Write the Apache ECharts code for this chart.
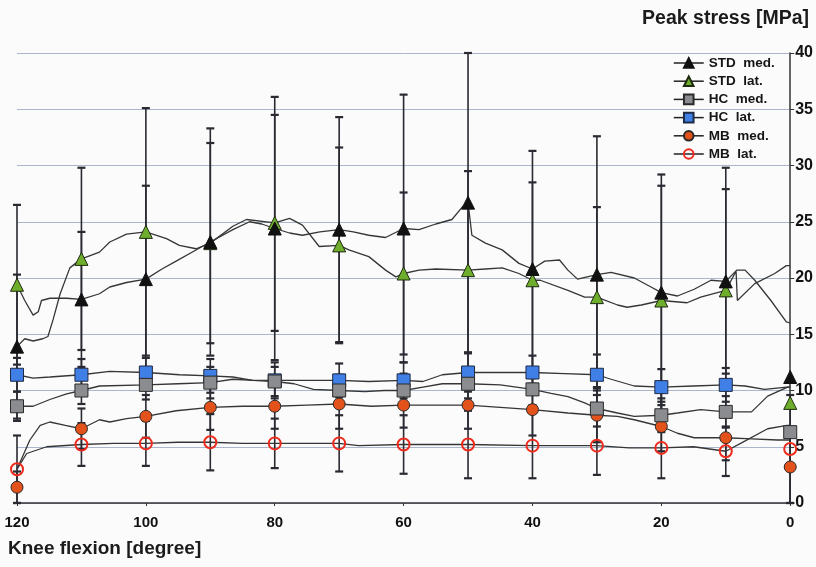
<!DOCTYPE html>
<html><head><meta charset="utf-8">
<script src="https://cdn.jsdelivr.net/npm/echarts@6/dist/echarts.min.js"></script>
<style>html,body{margin:0;padding:0;background:#fbfbfb}#c{width:816px;height:567px}</style>
</head><body><div id="c"></div>
<script>
// ---------- data ----------
const degrees = [120,110,100,90,80,70,60,50,40,30,20,10,0];
const xTickLabels = [120,100,80,60,40,20,0];
const yTickLabels = [0,5,10,15,20,25,30,35,40];
const seriesNames = ['STD  med.','STD  lat.','HC  med.','HC  lat.','MB  med.','MB  lat.'];

const stdMed = [13.9,18.1,19.9,23.2,24.4,24.3,24.4,26.7,20.8,20.3,18.7,19.7,11.2];
const stdLat = [19.4,21.7,24.1,23.1,24.9,22.9,20.4,20.7,19.8,18.3,18.0,18.9,8.9];
const hcMed  = [8.6,10.0,10.5,10.7,10.8,10.0,10.0,10.6,10.1,8.4,7.8,8.1,6.3];
const hcLat  = [11.4,11.4,11.6,11.3,10.9,10.9,10.9,11.6,11.6,11.4,10.3,10.5,null];
const mbMed  = [1.4,6.6,7.7,8.5,8.6,8.8,8.7,8.7,8.3,7.8,6.8,5.8,3.2];
const mbLat  = [3.0,5.2,5.3,5.4,5.3,5.3,5.2,5.2,5.1,5.1,4.9,4.6,4.8];

// standard deviations (error bars)
const stdMedErr = [6.4,6.0,8.3,10.1,11.7,10.0,11.9,13.3,10.5,12.3,10.5,8.2,0];
const stdLatErr = [7.1,8.1,11.0,8.9,9.6,8.7,7.2,8.8,8.7,8.0,10.2,10.9,0];
const hcMedErr  = [1.3,1.2,1.3,1.4,1.3,1.4,1.5,1.3,1.4,1.6,1.5,1.4,0];
const hcLatErr  = [1.5,1.4,1.3,1.5,1.6,1.5,1.6,1.7,1.5,1.8,1.6,1.5,0];
const mbMedErr  = [1.4,1.8,1.9,2.0,2.0,2.2,2.0,2.1,2.3,2.4,2.2,2.0,3.2];
const mbLatErr  = [3.0,1.9,2.0,2.5,2.2,2.5,2.6,3.0,2.9,2.6,2.7,2.2,4.8];

// continuous curves as traced in the picture: [degree, MPa]
const traceStdUpper = [[120,19.4],[118.8,18.0],[117.5,16.7],[116.7,17.0],[116.2,18.0],[114.9,18.2],[112.3,18.2],[110,18.1],[107.2,18.6],[105.6,19.2],[103,19.6],[100,19.9],[97.5,20.8],[95.3,21.5],[92.5,22.4],[90,23.2],[86.5,24.3],[83.9,25.0],[82,24.8],[80,24.4],[77.7,24.0],[75.7,23.8],[73,24.1],[70,24.3],[67.8,24.1],[65.4,23.8],[62.8,23.6],[60,24.4],[57.6,24.3],[55,24.8],[52.5,25.2],[50.9,26.3],[50,26.7],[49.4,23.8],[47.3,23.1],[44.7,22.5],[42.1,21.3],[40,20.8],[38.1,21.5],[35.8,21.6],[34.5,20.7],[33,19.9],[30,20.3],[27.8,20.5],[24.2,20.0],[21.6,19.2],[20,18.7],[17.5,18.4],[14.9,19.0],[12.3,19.8],[10,19.7],[8.3,20.7],[7,20.7],[5.5,19.8],[3,18.0],[0.6,16.1],[0,16.0]];
const traceStdLower = [[120,13.9],[118.8,14.6],[117.5,14.4],[116,14.6],[115.2,14.8],[114.4,16.3],[113.3,18.6],[111.8,20.9],[110,21.7],[107.2,22.3],[105.6,23.2],[103,23.9],[100,24.1],[96.8,23.5],[94.8,22.9],[92.2,22.6],[90,23.1],[86.5,24.6],[84.4,25.2],[80,24.9],[77.7,25.3],[75.7,24.7],[73.1,22.8],[70,22.9],[68.5,22.5],[65.4,21.9],[62.8,20.7],[61.2,20.1],[60,20.4],[57.6,20.7],[55,20.8],[50,20.7],[47.3,20.8],[44.7,20.9],[42.1,20.4],[40,19.8],[38.8,19.8],[34.5,18.9],[31.9,18.3],[30,18.3],[26.8,17.6],[25.3,17.4],[23.1,17.6],[20,18.0],[16,17.8],[13.9,18.3],[10,18.9],[8.4,20.6],[8.2,18.0],[5.5,19.5],[2.4,20.4],[0.6,21.1],[0,21.1]];
const traceHcLat = [[120,11.4],[117.5,11.1],[114.9,11.2],[110,11.4],[105.6,11.7],[100,11.6],[94.8,11.4],[90,11.3],[86.5,11.2],[83.4,10.9],[80,10.9],[75,10.9],[70,10.9],[65.4,10.8],[60,10.9],[57,10.8],[54,11.4],[50,11.6],[45,11.6],[40,11.6],[35,11.5],[30,11.4],[27.8,11.0],[24.2,10.4],[20,10.3],[15,10.4],[10,10.5],[7,10.4],[4,10.1],[0.5,10.3],[0,10.3]];
const traceHcMed = [[120,8.6],[117.5,8.6],[114.9,9.2],[112.3,9.7],[110,10.0],[107.2,10.4],[100,10.5],[95,10.6],[90,10.7],[86.5,11.0],[83.4,10.9],[80,10.8],[77,10.6],[74,10.1],[70,10.0],[66,9.9],[63,10.0],[60,10.0],[57,10.3],[54,10.6],[50,10.6],[45,10.5],[40,10.1],[37.1,9.75],[34.5,9.45],[31.9,8.9],[30,8.4],[26.8,8.0],[24.2,7.7],[20,7.8],[17.5,8.0],[13.9,8.3],[10,8.1],[6,8.1],[3.5,9.5],[0.4,10.3],[0,10.3]];
const traceMbMed = [[120,3.0],[118,5.6],[116.4,6.9],[114.9,7.2],[112.5,6.9],[110,6.6],[107.2,7.4],[105.6,7.2],[103,7.5],[100,7.7],[95.3,8.2],[90,8.5],[85,8.6],[80,8.6],[75,8.7],[70,8.8],[65,8.6],[60,8.7],[55,8.7],[50,8.7],[45,8.5],[40,8.3],[34.5,8.0],[30,7.8],[26.8,7.7],[24.2,7.4],[20,6.8],[17.5,6.2],[14.9,5.8],[10,5.8],[6,5.7],[2,5.6],[0,5.6]];
const traceMbLat = [[120,3.0],[118.5,4.4],[115.4,5.0],[110,5.2],[105,5.3],[100,5.3],[95,5.4],[90,5.4],[85,5.3],[80,5.3],[75,5.3],[70,5.3],[67,5.1],[60,5.2],[50,5.2],[40,5.1],[30,5.1],[25,4.9],[20,4.9],[15,5.0],[10,4.6],[7.7,5.3],[3.5,6.6],[0.5,6.9],[0,6.9]];

// ---------- chart ----------
const FONT = 'Liberation Sans, Arial, Helvetica, sans-serif';
const markerDefs = [
  {name: seriesNames[0], vals: stdMed, errs: stdMedErr, symbol: 'triangle', size: 13, style: {color:'#111111', borderColor:'#111111', borderWidth:1}},
  {name: seriesNames[1], vals: stdLat, errs: stdLatErr, symbol: 'triangle', size: 13, style: {color:'#6fae2c', borderColor:'#1e2a10', borderWidth:1}},
  {name: seriesNames[2], vals: hcMed,  errs: hcMedErr,  symbol: 'rect', size: 13, style: {color:'#8a8c90', borderColor:'#2a2a2a', borderWidth:1}},
  {name: seriesNames[3], vals: hcLat,  errs: hcLatErr,  symbol: 'rect', size: 13, style: {color:'#3f7fe6', borderColor:'#1f2a44', borderWidth:1}},
  {name: seriesNames[4], vals: mbMed,  errs: mbMedErr,  symbol: 'circle', size: 12, style: {color:'#e4521c', borderColor:'#2a2a2a', borderWidth:1}},
  {name: seriesNames[5], vals: mbLat,  errs: mbLatErr,  symbol: 'circle', size: 12, style: {color:'rgba(255,255,255,0)', borderColor:'#ee2a1c', borderWidth:2}}
];

function renderErr(params, api) {
  const x = api.value(0);
  const lo = api.coord([x, api.value(1)]);
  const hi = api.coord([x, api.value(2)]);
  const c = '#2a2a32';
  return {type:'group', children:[
    {type:'line', shape:{x1:lo[0], y1:lo[1], x2:hi[0], y2:hi[1]}, style:{stroke:c, lineWidth:1.6}},
    {type:'line', shape:{x1:hi[0]-4, y1:hi[1], x2:hi[0]+4, y2:hi[1]}, style:{stroke:c, lineWidth:2.2}},
    {type:'line', shape:{x1:lo[0]-4, y1:lo[1], x2:lo[0]+4, y2:lo[1]}, style:{stroke:c, lineWidth:2.2}}
  ]};
}

const series = [];
markerDefs.forEach(function (d) {
  const errData = [];
  degrees.forEach(function (deg, i) {
    if (d.vals[i] != null && d.errs[i]) errData.push([deg, Math.max(0, d.vals[i]-d.errs[i]), d.vals[i]+d.errs[i]]);
  });
  series.push({type:'custom', name: d.name + ' err', renderItem: renderErr, data: errData,
    encode:{x:0, y:[1,2]}, z:1, silent:true, animation:false});
});
[traceStdUpper, traceStdLower, traceHcLat, traceHcMed, traceMbMed, traceMbLat].forEach(function (t, k) {
  series.push({type:'line', name:'trace' + k, data:t, showSymbol:false, symbol:'none',
    lineStyle:{color:'#363636', width:1.3}, z:2, silent:true, animation:false});
});
// draw order: MB lat first, STD med last (on top)
markerDefs.slice().reverse().forEach(function (d, k) {
  series.push({type:'line', name:d.name, data: degrees.map(function (deg, i) { return [deg, d.vals[i]]; }),
    symbol:d.symbol, symbolSize:d.size, showSymbol:true, showAllSymbol:true,
    lineStyle:{opacity:0}, itemStyle:d.style, z:3 + k, animation:false});
});

const chart = echarts.init(document.getElementById('c'), null, {renderer:'canvas'});
chart.setOption({
  backgroundColor:'#fbfbfb',
  textStyle:{fontFamily:FONT},
  animation:false,
  title:{text:'Peak stress [MPa]', right:2, top:4,
    textStyle:{fontFamily:FONT, fontWeight:'bold', fontSize:19.5, color:'#1b1b1b'}},
  legend:{data:seriesNames, orient:'vertical', left:673, top:56, padding:0,
    itemWidth:30, itemHeight:12, itemGap:4.2,
    textStyle:{fontFamily:FONT, fontWeight:'bold', fontSize:13.5, lineHeight:14, color:'#151515'},
    lineStyle:{opacity:1, color:'#222222', width:1.5}},
  grid:{left:17, right:24, top:53, bottom:64, containLabel:false},
  xAxis:{type:'value', inverse:true,
    min:xTickLabels[xTickLabels.length-1], max:xTickLabels[0], interval:xTickLabels[0]-xTickLabels[1],
    axisLine:{show:true, lineStyle:{color:'#333', width:1.5}},
    axisTick:{show:true, length:3, lineStyle:{color:'#333'}},
    axisLabel:{fontFamily:FONT, fontWeight:'bold', fontSize:15, color:'#111', margin:12},
    splitLine:{show:false}},
  yAxis:{type:'value', position:'right',
    min:yTickLabels[0], max:yTickLabels[yTickLabels.length-1], interval:yTickLabels[1]-yTickLabels[0],
    axisLine:{show:true, lineStyle:{color:'#333', width:1.5}},
    axisTick:{show:true, length:4, lineStyle:{color:'#333'}},
    axisLabel:{fontFamily:FONT, fontWeight:'bold', fontSize:16, color:'#111', margin:5},
    splitLine:{show:true, lineStyle:{color:'#a9b6cc', width:1}}},
  graphic:[{type:'text', left:8, top:539,
    style:{text:'Knee flexion [degree]', fontFamily:FONT, fontWeight:'bold', fontSize:19, fill:'#1b1b1b'}}],
  series: series
});
</script></body></html>
